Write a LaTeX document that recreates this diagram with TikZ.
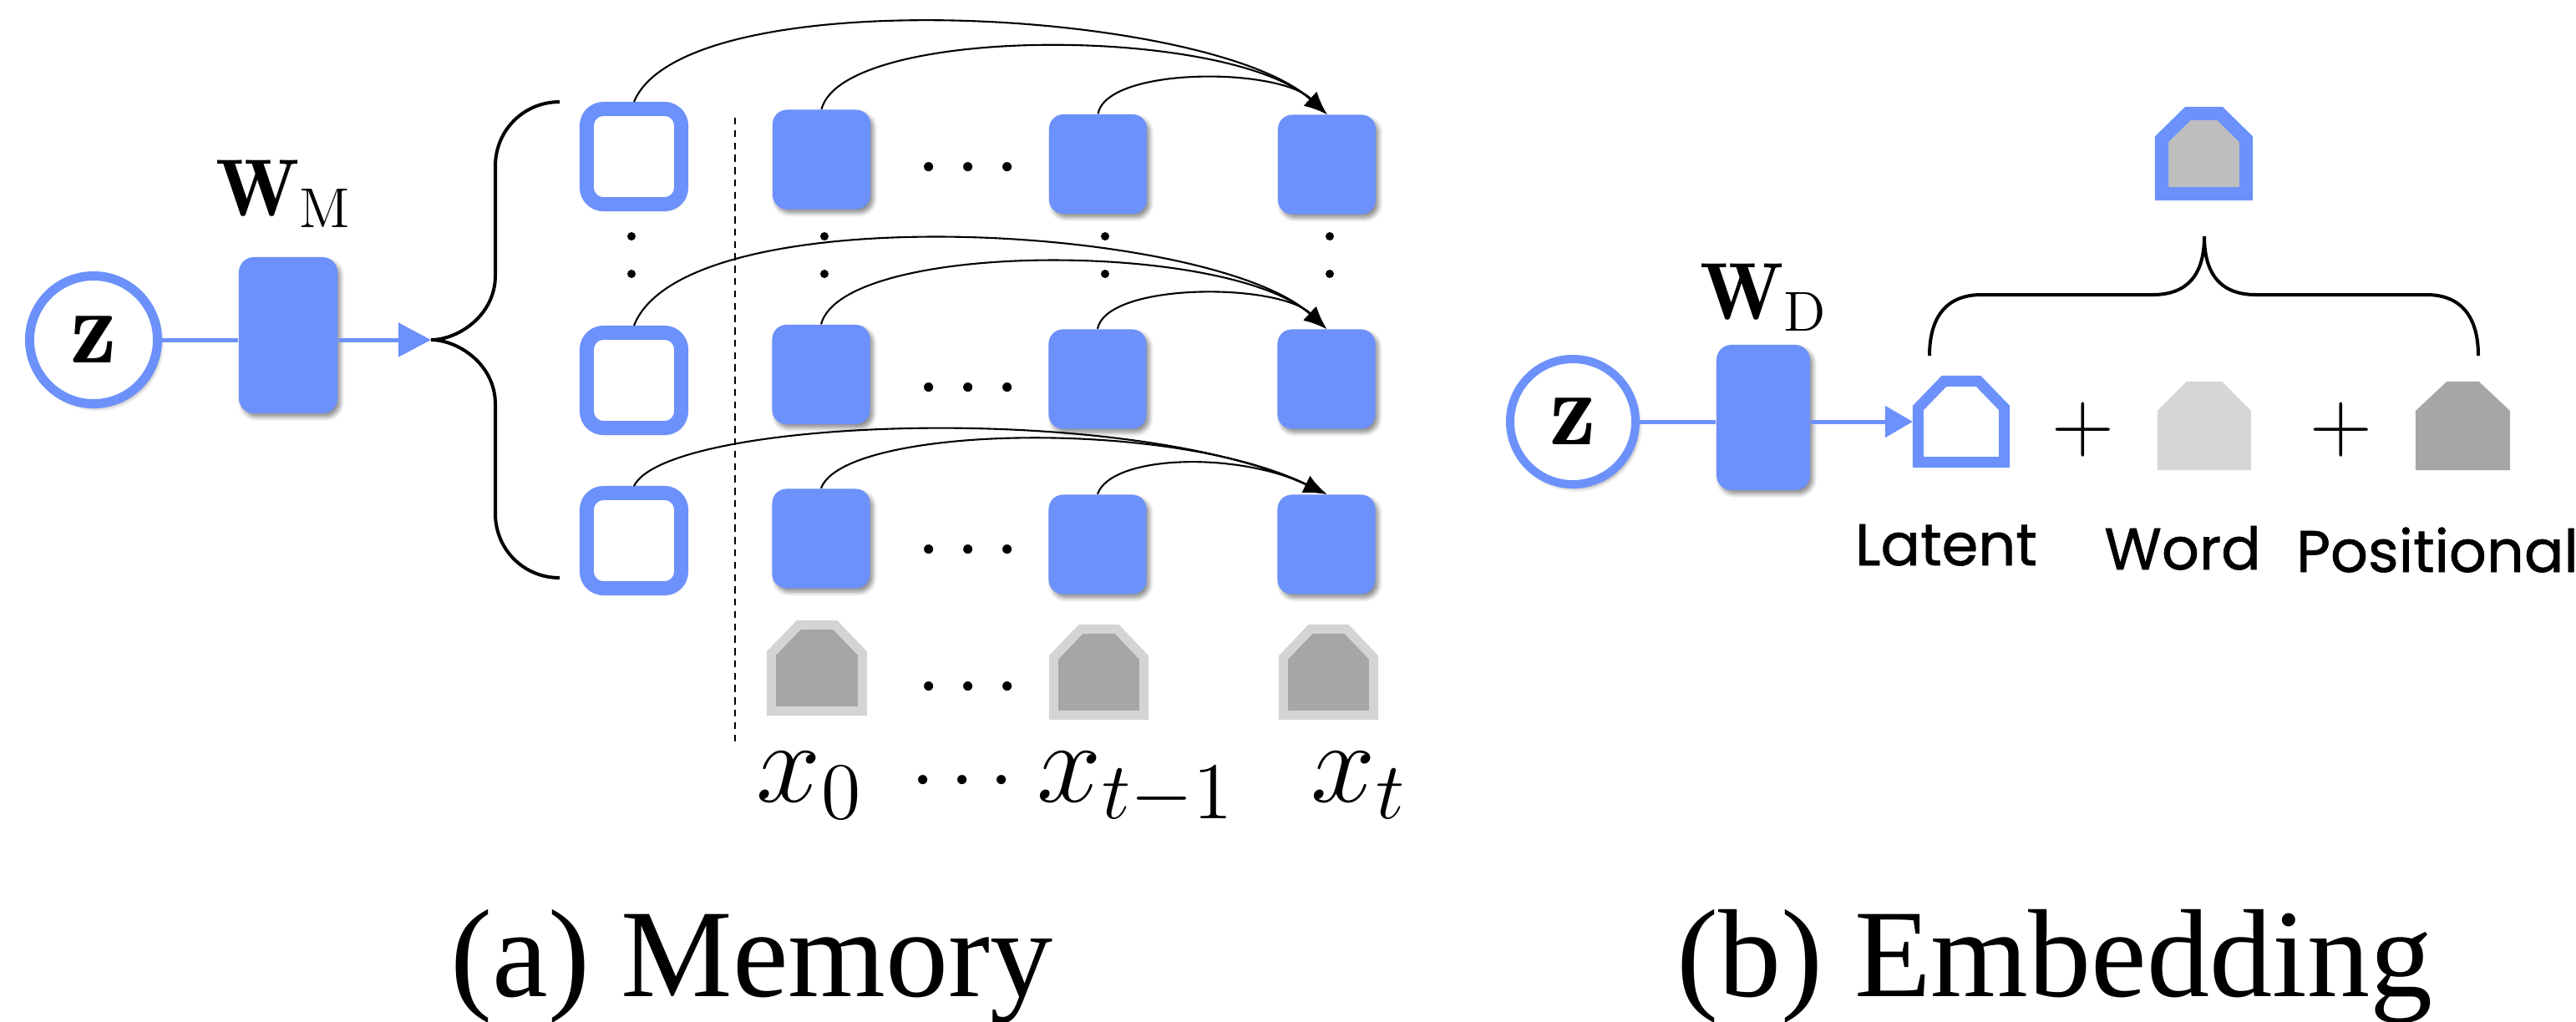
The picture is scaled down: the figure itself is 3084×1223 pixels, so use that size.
\RequirePackage{fix-cm}
\documentclass[tikz,border=0pt]{standalone}
\usepackage{fontspec}
\newfontfamily\lblfont{Poppins}[FakeBold=0.9]
\newfontfamily\capfont{Liberation Serif}
\usetikzlibrary{arrows.meta,shadows.blur,calc}

\definecolor{mblue}{RGB}{108,145,250}
\definecolor{ringgray}{HTML}{D4D4D4}
\definecolor{coregray}{HTML}{A6A6A6}
\definecolor{wordgray}{HTML}{D6D6D6}
\definecolor{sumgray}{HTML}{BEBEBE}

% outline of a token: a box whose two upper corners are cut off
\newcommand\housepath[3]{(#1.south west) -- ($(#1.north west)!#3!(#1.south west)$) -- ($(#1.north west)!#2!(#1.north east)$) -- ($(#1.north east)!#2!(#1.north west)$) -- ($(#1.north east)!#3!(#1.south east)$) -- (#1.south east) -- cycle}
% large maths: set at \huge and enlarged
\newcommand\bigmath[2]{\scalebox{#1}{\fontsize{20.74}{25}\selectfont$#2$}}

\tikzset{
  shad/.style={blur shadow={shadow xshift=0.035cm, shadow yshift=-0.045cm, shadow blur radius=0.05cm, shadow opacity=45, shadow blur steps=6}},
  latentvar/.style={circle, draw=mblue, line width=0.11cm, fill=white, minimum size=1.53cm, inner sep=0, shad},
  weight/.style={fill=mblue, rounded corners=0.18cm, minimum width=1.18cm, minimum height=1.87cm, inner sep=0, shad},
  slot/.style={draw=mblue, line width=0.17cm, fill=white, rounded corners=0.2cm, minimum width=1.13cm, minimum height=1.14cm, inner sep=0, shad},
  cell/.style={fill=mblue, rounded corners=0.17cm, minimum width=1.17cm, minimum height=1.19cm, inner sep=0, shad},
  tokbox/.style 2 args={minimum width=#1, minimum height=#2, inner sep=0, outer sep=0, draw=none},
  gtoken/.style={draw=ringgray, line width=0.11cm, fill=coregray},
  flow/.style={draw=mblue, line width=0.05cm},
  flowtip/.style={flow, -{Triangle[length=0.39cm,width=0.40cm]}},
  link/.style={draw=black, line width=0.6pt, -{Latex[length=0.27cm,width=0.22cm]}},
  bracket/.style={draw=black, line width=0.04cm},
  sepline/.style={draw=black, line width=0.6pt, dash pattern=on 2.4pt off 1.8pt},
  plain/.style={inner sep=0},
  dotmark/.style={circle, fill=black, inner sep=0, minimum size=0.1cm},
  sanslbl/.style={inner sep=0, font=\lblfont\fontsize{20}{24}\selectfont},
  caption/.style={inner sep=0, font=\capfont\fontsize{42.7}{48}\selectfont},
}

\begin{document}
\begin{tikzpicture}[x=0.01cm, y=-0.01cm]
\useasboundingbox (0,0) rectangle (3084,1223);

% ---------------- (a) Memory ----------------
\node[latentvar] (za) at (112,407) {\bigmath{1.72}{\mathbf{z}}};
\node[weight] (wm) at (345,401.5) {};
\node[plain, anchor=base] (wml) at (340,258) {\bigmath{1.33}{\mathbf{W}_{\mathrm{M}}}};
\coordinate (btip) at (516,407);
\draw[flow] (za.east) -- (za.east -| wm.west);
\draw[flowtip] (wm.east |- btip) -- (btip);

% memory slots and hidden states
\node[slot] (s1) at (759,187.5) {};
\node[slot] (s2) at (759,455.5) {};
\node[slot] (s3) at (759,647.5) {};
\node[cell] (c11) at (983.5,191) {};
\node[cell] (c12) at (1314.5,196.5) {};
\node[cell] (c13) at (1588.5,197) {};
\node[cell] (c21) at (983,448.5) {};
\node[cell] (c22) at (1314,454) {};
\node[cell] (c23) at (1588,454) {};
\node[cell] (c31) at (983,645) {};
\node[cell] (c32) at (1314,652) {};
\node[cell] (c33) at (1588,652) {};

% input tokens
\node[tokbox={1.09cm}{1.03cm}] (g1) at (978,800) {};
\node[tokbox={1.08cm}{1.03cm}] (g2) at (1315.5,805) {};
\node[tokbox={1.08cm}{1.03cm}] (g3) at (1590.5,805) {};
\draw[gtoken] \housepath{g1}{0.30}{0.33};
\draw[gtoken] \housepath{g2}{0.30}{0.33};
\draw[gtoken] \housepath{g3}{0.30}{0.33};

% brace gathering the memory vectors
\draw[bracket] (670,122) .. controls (627,122) and (593,156) .. (593,199) -- (593,330)
  .. controls (593,378) and (548,407) .. (btip)
  .. controls (548,407) and (593,436) .. (593,484) -- (593,615)
  .. controls (593,658) and (627,692) .. (670,692);

% separator between memory and tokens
\coordinate (dtop) at (880,141);
\coordinate (dbot) at (880,893);
\draw[sepline] (dtop) -- (dbot);

% dots
\node[plain, anchor=base] (r1d) at (1159,226) {\bigmath{1.4465}{\cdots}};
\node[plain, anchor=base] (r2d) at (1159,490) {\bigmath{1.4465}{\cdots}};
\node[plain, anchor=base] (r3d) at (1159,684) {\bigmath{1.4465}{\cdots}};
\node[plain, anchor=base] (gd) at (1159,848) {\bigmath{1.4465}{\cdots}};
\foreach \cx/\nm in {756/a, 987/b, 1323/c, 1592/d} {
  \node[dotmark] (v\nm1) at (\cx,283) {};
  \node[dotmark] (v\nm2) at (\cx,328) {};
}

% token labels
\node[plain, anchor=base west] (x0) at (905,960) {\bigmath{1.905}{x_0}};
\node[plain, anchor=base] (ld) at (1152,960) {\bigmath{1.4465}{\cdots}};
\node[plain, anchor=base west] (xt1) at (1241,960) {\bigmath{1.905}{x_{t-1}}};
\node[plain, anchor=base west] (xt) at (1569,960) {\bigmath{1.905}{x_t}};

% attention links
\draw[link] (s1.north) .. controls (820,-25) and (1450,10) .. (c13.north);
\draw[link] (c11.north) .. controls (1010,30) and (1470,30) .. (c13.north);
\draw[link] (c12.north) .. controls (1325,80) and (1530,80) .. (c13.north);
\draw[link] (s2.north) .. controls (820,233) and (1450,268) .. (c23.north);
\draw[link] (c21.north) .. controls (1010,288) and (1470,288) .. (c23.north);
\draw[link] (c22.north) .. controls (1325,338) and (1530,338) .. (c23.north);
\draw[link] (s3.north) .. controls (800,500) and (1350,480) .. (c33.north);
\draw[link] (c31.north) .. controls (1010,510) and (1400,500) .. (c33.north);
\draw[link] (c32.north) .. controls (1330,545) and (1480,540) .. (c33.north);

\node[caption, anchor=base] (capa) at (900,1193) {(a) Memory};

% ---------------- (b) Embedding ----------------
\node[latentvar, minimum size=1.50cm, line width=0.10cm] (zb) at (1883,505) {\bigmath{1.72}{\mathbf{z}}};
\node[weight, minimum width=1.12cm, minimum height=1.74cm] (wd) at (2111,500) {};
\node[plain, anchor=base] (wdl) at (2112,382) {\bigmath{1.33}{\mathbf{W}_{\mathrm{D}}}};

\node[tokbox={1.03cm}{0.97cm}] (lat) at (2348,505) {};
\node[tokbox={1.12cm}{1.06cm}] (wrd) at (2639,510) {};
\node[tokbox={1.13cm}{1.06cm}] (pos) at (2948.5,510) {};
\node[tokbox={1.01cm}{0.96cm}] (emb) at (2638.5,184) {};
\draw[draw=mblue, line width=0.13cm, fill=white] \housepath{lat}{0.30}{0.33};
\fill[wordgray] \housepath{wrd}{0.31}{0.33};
\fill[coregray] \housepath{pos}{0.33}{0.33};
\draw[draw=mblue, line width=0.16cm, fill=sumgray] \housepath{emb}{0.31}{0.32};

\draw[flow] (zb.east) -- (zb.east -| wd.west);
\draw[flow, -{Triangle[length=0.33cm,width=0.37cm]}, shorten >=0.065cm] (wd.east |- lat.west) -- (lat.west);

\node[plain] (p1) at (2494,515) {\bigmath{1.422}{+}};
\node[plain] (p2) at (2803,515) {\bigmath{1.422}{+}};

% brace summing the three embeddings
\coordinate (etip) at (2639,283);
\draw[bracket] (2310,426) .. controls (2310,380) and (2330,353) .. (2372,353) -- (2577,353)
  .. controls (2618,353) and (2639,330) .. (etip)
  .. controls (2639,330) and (2660,353) .. (2701,353) -- (2905,353)
  .. controls (2947,353) and (2967,380) .. (2967,426);

\node[sanslbl, anchor=base] (llat) at (2330,677) {Latent};
\node[sanslbl, anchor=base] (lwrd) at (2613,682) {Word};
\node[sanslbl, anchor=base] (lpos) at (2918,685) {Positional};

\node[caption, anchor=base] (capb) at (2460,1193) {(b) Embedding};
\end{tikzpicture}
\end{document}
